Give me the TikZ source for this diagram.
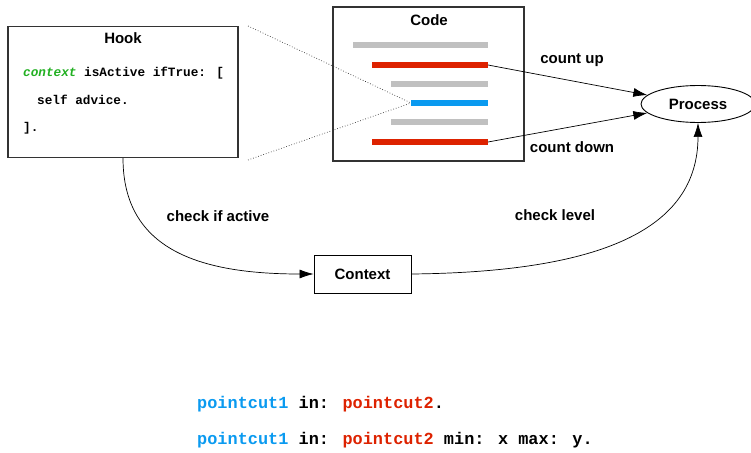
\documentclass[tikz,border=0pt]{standalone}
\usepackage{fontspec}
\setmainfont{Liberation Sans}
\newfontfamily\monof{Liberation Mono}
\usetikzlibrary{arrows.meta,shapes.geometric}
\definecolor{boxgray}{HTML}{333333}
\definecolor{bargray}{HTML}{C0C0C0}
\definecolor{barred}{HTML}{DD2200}
\definecolor{barblue}{HTML}{0A9AF0}
\definecolor{codegreen}{HTML}{22B022}
\tikzset{
  panel/.style={draw=boxgray, line width=1.2pt, fill=white},
  lbl/.style={font=\fontsize{15}{17}\selectfont\bfseries, inner sep=0pt},
  code/.style={font=\monof\fontsize{12.7}{14}\selectfont\bfseries, anchor=west, inner sep=0pt},
  bigcode/.style={font=\monof\fontsize{16.9}{18}\selectfont\bfseries, anchor=west, inner sep=0pt},
  bar/.style={line width=6pt},
  conn/.style={draw=black, line width=0.7pt, -{Latex[length=14pt,width=9pt]}},
  dots/.style={draw=boxgray, line width=0.7pt, dotted}
}
\begin{document}
\begin{tikzpicture}[x=1pt,y=-1pt]
\useasboundingbox (0,0) rectangle (751,452);
% Hook box
\node[panel, minimum width=230pt, minimum height=131pt, inner sep=0pt] (hook) at (123,92) {};
\node[lbl] (hooktitle) at (123,38) {Hook};
\node[code] (hl1) at (23,73) {\textcolor{codegreen}{\itshape context} isActive ifTrue: [};
\node[code] (hl2) at (37,100) {self advice.};
\node[code] (hl3) at (23,128) {].};
% Code box
\node[panel, minimum width=191pt, minimum height=154pt, inner sep=0pt] (code) at (428.5,84) {};
\node[lbl] (codetitle) at (429,20) {Code};
\coordinate (b1a) at (353,45);  \coordinate (b1b) at (488,45);
\coordinate (b2a) at (372,65);  \coordinate (b2b) at (488,65);
\coordinate (b3a) at (391,84);  \coordinate (b3b) at (488,84);
\coordinate (b4a) at (411,103); \coordinate (b4b) at (488,103);
\coordinate (b5a) at (391,122); \coordinate (b5b) at (488,122);
\coordinate (b6a) at (372,142); \coordinate (b6b) at (488,142);
\draw[bar, bargray] (b1a) -- (b1b);
\draw[bar, barred] (b2a) -- (b2b);
\draw[bar, bargray] (b3a) -- (b3b);
\draw[bar, barblue] (b4a) -- (b4b);
\draw[bar, bargray] (b5a) -- (b5b);
\draw[bar, barred] (b6a) -- (b6b);
% dotted zoom lines
\coordinate (dt) at (248,26);
\coordinate (db) at (248,160);
\draw[dots] (dt) -- (b4a);
\draw[dots] (db) -- (b4a);
% Process
\node[draw=black, line width=0.9pt, ellipse, minimum width=114pt, minimum height=37pt, inner sep=0pt, lbl] (proc) at (698,104) {Process};
\draw[conn] (b2b) -- (proc.170);
\draw[conn] (b6b) -- (proc.190);
\node[lbl] (cup) at (572,60) {count up};
\node[lbl] (cdown) at (572,147) {count down};
% Context
\node[draw=black, line width=0.9pt, fill=white, minimum width=97pt, minimum height=38pt, inner sep=0pt, lbl] (ctx) at (362.5,274) {Context};
\draw[conn] (hook.south) .. controls (123,250) and (200,274) .. (ctx.west);
\draw[conn] (ctx.east) .. controls (600,272) and (698,230) .. (proc.south);
\node[lbl] (cia) at (218,216) {check if active};
\node[lbl] (clv) at (555,215) {check level};
% bottom text
\node[bigcode] (p1) at (197,404) {\textcolor{barblue}{pointcut1} in: \textcolor{barred}{pointcut2}.};
\node[bigcode] (p2) at (197,440) {\textcolor{barblue}{pointcut1} in: \textcolor{barred}{pointcut2} min: x max: y.};
\end{tikzpicture}
\end{document}
